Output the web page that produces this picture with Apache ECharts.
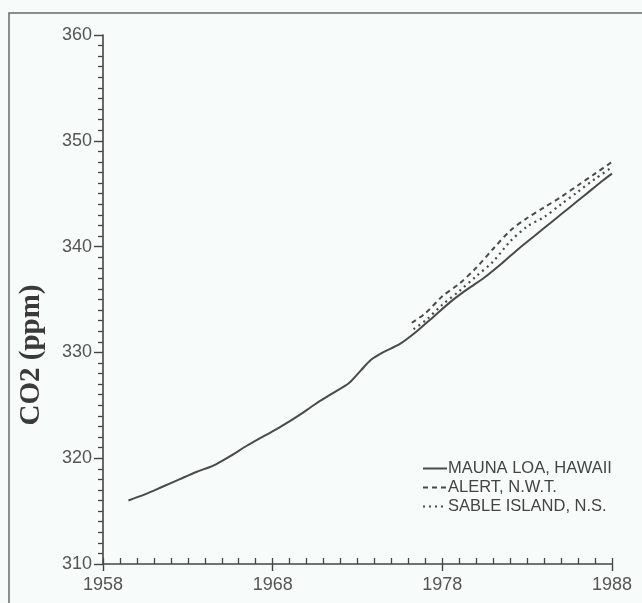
<!DOCTYPE html>
<html>
<head>
<meta charset="utf-8">
<script src="https://cdn.jsdelivr.net/npm/echarts@6/dist/echarts.min.js"></script>
<style>
html,body{margin:0;padding:0;background:#f7fbfa;}
#chart{width:642px;height:603px;}
</style>
</head>
<body>
<div id="chart"></div>
<script>
// Mauna Loa, Hawaii
const maunaYears  = [1959.5,1960.5,1961.5,1962.5,1963.5,1964.5,1965.5,1966.5,1967.5,1968.5,1969.5,1970.5,1971.5,1972.5,1973.2,1973.8,1974.5,1975.5,1976.5,1977.5,1978.5,1979.5,1980.5,1981.5,1982.5,1983.5,1984.5,1985.5,1986.5,1987.5,1988];
const maunaValues = [316.0,316.6,317.3,318.0,318.7,319.3,320.2,321.2,322.1,323.0,324.0,325.1,326.1,327.1,328.3,329.3,330.0,330.8,332.0,333.4,334.8,336.0,337.1,338.4,339.8,341.1,342.4,343.7,345.0,346.3,346.9];
// Alert, N.W.T.
const alertYears  = [1976.2,1977,1978,1979,1980,1981,1982,1983,1984,1985,1986,1987,1988];
const alertValues = [332.8,333.7,335.3,336.5,338.0,339.8,341.5,342.7,343.7,344.7,345.8,346.9,348.0];
// Sable Island, N.S.
const sableYears  = [1976.3,1977,1978,1979,1980,1981,1982,1983,1984,1985,1986,1987,1988];
const sableValues = [332.2,333.0,334.5,335.8,337.2,338.6,340.5,341.9,342.8,344.0,345.2,346.4,347.5];

const xTicks = [1958,1968,1978,1988];
const yTicks = [310,320,330,340,350,360];
const seriesNames = ['MAUNA LOA, HAWAII','ALERT, N.W.T.','SABLE ISLAND, N.S.'];
const yTitle = 'CO2 (ppm)';

function zip(xs, ys){ return xs.map((x,i)=>[x, ys[i]]); }

const ink = '#454545';
const chart = echarts.init(document.getElementById('chart'), null, {renderer:'canvas'});
chart.setOption({
  backgroundColor:'#f7fbfa',
  animation:false,
  grid:{left:103, right:30, top:35, bottom:39},
  legend:{
    orient:'vertical', left:417, top:455,
    itemWidth:24, itemHeight:12, itemGap:2,
    data: seriesNames,
    itemStyle:{opacity:0},
    textStyle:{fontFamily:'Liberation Sans', fontSize:16.5, lineHeight:17, color:'#444', padding:[0,0,0,-4]}
  },
  xAxis:[{
    type:'value', min:xTicks[0], max:xTicks[xTicks.length-1], interval:10,
    axisLine:{show:true, lineStyle:{color:ink, width:1.6}},
    axisTick:{show:true, inside:false, length:7, lineStyle:{color:ink, width:1.4}},
    axisLabel:{fontFamily:'Liberation Sans', fontSize:18, color:'#555', margin:12,
      formatter:v=>xTicks.includes(v)?String(v):''},
    splitLine:{show:false}
  },{
    type:'value', min:xTicks[0], max:xTicks[xTicks.length-1], interval:1, position:'bottom',
    axisLine:{show:false},
    axisTick:{show:true, inside:true, length:6, lineStyle:{color:ink, width:1.3}},
    axisLabel:{show:false},
    splitLine:{show:false}
  }],
  yAxis:{
    type:'value', min:yTicks[0], max:yTicks[yTicks.length-1], interval:10,
    axisLine:{show:true, lineStyle:{color:ink, width:1.6}},
    axisTick:{show:true, inside:false, length:9, lineStyle:{color:ink, width:1.4}},
    minorTick:{show:true, splitNumber:10, length:5, lineStyle:{color:ink, width:1.3}},
    axisLabel:{fontFamily:'Liberation Sans', fontSize:18, color:'#555', margin:11},
    splitLine:{show:false}, minorSplitLine:{show:false}
  },
  graphic:[
    {type:'polyline', silent:true, shape:{points:[[9,603],[9,13],[642,13]]},
      style:{stroke:'#6a6a6a', lineWidth:1.5, fill:null}},
    {type:'text', x:32, y:355, rotation:Math.PI/2,
      style:{text:yTitle, font:'bold 29px "Liberation Serif"', fill:'#3a3a3a',
        textAlign:'center', textVerticalAlign:'middle'}}
  ],
  series:[
    {name:seriesNames[0], type:'line', data:zip(maunaYears,maunaValues), symbol:'none', smooth:0.3,
      lineStyle:{color:'#4a4a4a', width:2}, itemStyle:{color:'#4a4a4a'}},
    {name:seriesNames[1], type:'line', data:zip(alertYears,alertValues), symbol:'none', smooth:0.3,
      lineStyle:{color:'#4a4a4a', width:2, type:[5,4]}, itemStyle:{color:'#4a4a4a'}},
    {name:seriesNames[2], type:'line', data:zip(sableYears,sableValues), symbol:'none', smooth:0.3,
      lineStyle:{color:'#4a4a4a', width:2.2, type:[2,4]}, itemStyle:{color:'#4a4a4a'}}
  ]
});
</script>
</body>
</html>
